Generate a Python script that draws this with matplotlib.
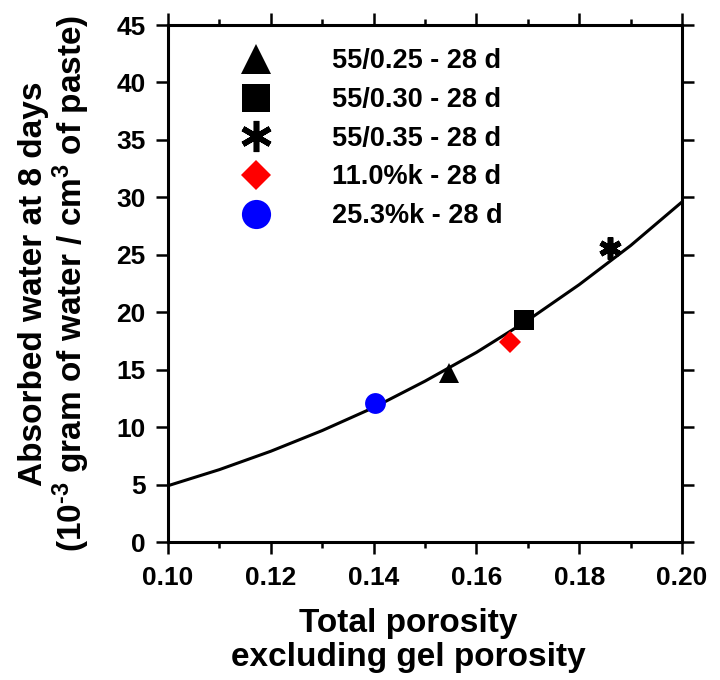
import numpy as np
import matplotlib
matplotlib.use('Agg')
import matplotlib.pyplot as plt
from matplotlib.ticker import MultipleLocator

plt.rcParams['font.family'] = ['Liberation Sans', 'DejaVu Sans']
plt.rcParams['font.weight'] = 'bold'
plt.rcParams['mathtext.fontset'] = 'custom'
plt.rcParams['mathtext.rm'] = 'Liberation Sans:bold'
plt.rcParams['mathtext.bf'] = 'Liberation Sans:bold'
plt.rcParams['mathtext.it'] = 'Liberation Sans:bold'
plt.rcParams['mathtext.default'] = 'bf'

# Measured points (total porosity excl. gel porosity, absorbed water at 8 days)
series_labels = ['55/0.25 - 28 d', '55/0.30 - 28 d', '55/0.35 - 28 d',
                 '11.0%k - 28 d', '25.3%k - 28 d']
series_x = [0.1547, 0.1692, 0.1860, 0.1665, 0.1403]
series_y = [14.7, 19.3, 25.6, 17.4, 12.1]

# Fitted curve at every 0.01
curve_x = [0.10, 0.11, 0.12, 0.13, 0.14, 0.15, 0.16, 0.17, 0.18, 0.19, 0.20]
curve_y = [4.9, 6.3, 7.9, 9.7, 11.7, 14.0, 16.5, 19.3, 22.4, 25.8, 29.6]

# marker, size, colour, edge width
styles = [
    ('^', 15, 'black', 0),
    ('s', 14, 'black', 0),
    ((6, 2, 0), 16, 'black', 4),
    ('D', 10.7, 'red', 0),
    ('o', 15, 'blue', 0),
]

fig = plt.figure(figsize=(7.2, 6.8), dpi=100)
ax = fig.add_axes([168 / 720, 1 - 542 / 680, 514 / 720, 517 / 680])

ax.plot(curve_x, curve_y, color='black', lw=2.2, zorder=2)

for i, label in enumerate(series_labels):
    marker, ms, color, mew = styles[i]
    ax.plot([series_x[i]], [series_y[i]], linestyle='none', marker=marker,
            markersize=ms, color=color, markeredgecolor=color,
            markeredgewidth=mew, label=label, zorder=3)

ax.set_xlim(0.10, 0.20)
ax.set_ylim(0, 45)
ax.xaxis.set_major_locator(MultipleLocator(0.02))
ax.xaxis.set_minor_locator(MultipleLocator(0.01))
ax.yaxis.set_major_locator(MultipleLocator(5))
ax.xaxis.set_major_formatter(plt.FormatStrFormatter('%.2f'))

for s in ax.spines.values():
    s.set_linewidth(2.2)

ax.tick_params(which='major', direction='out', length=8.6, width=1.8,
               top=True, right=True, labelsize=19)
ax.tick_params(which='minor', direction='out', length=4.3, width=1.8,
               top=True, right=True)
ax.tick_params(axis='x', which='major', pad=9)
ax.tick_params(axis='y', which='major', pad=7.5)

ax.set_xlabel('Total porosity\nexcluding gel porosity', fontsize=24,
              fontweight='bold', linespacing=1.12)
ax.xaxis.set_label_coords(0.467, -0.128)
ax.set_ylabel('Absorbed water at 8 days\n'
              r'(10$^{\text{-3}}$ gram of water / cm$^{3}$ of paste)',
              fontsize=24, fontweight='bold', linespacing=1.05)
ax.yaxis.set_label_coords(-0.148, 0.5)

ax.legend(loc='upper left', bbox_to_anchor=(0.118, 0.955), frameon=False,
          fontsize=19.5, markerscale=1.4, handlelength=2.0, handletextpad=1.8,
          labelspacing=0.47, borderpad=0, borderaxespad=0)

plt.savefig('out.png', dpi=100)
plt.close()
